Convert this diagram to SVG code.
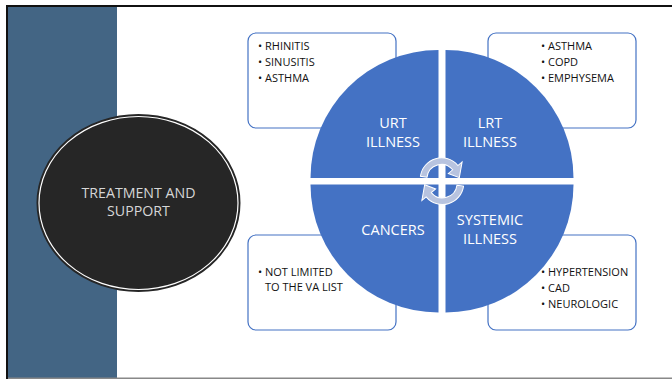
<svg xmlns="http://www.w3.org/2000/svg" width="672" height="379" viewBox="0 0 672 379">
<style>
.box{fill:#fff;stroke:#4472C4;stroke-width:1.2}
.quad{fill:#4472C4}
.lbl{font-family:"Open Sans","Noto Sans",sans-serif;font-size:14.5px;fill:#fff;text-anchor:middle}
.item{font-family:"Open Sans","Noto Sans",sans-serif;font-size:11px;fill:#111}
.arr{fill:#b7c3df;stroke:#fff;stroke-width:0.9}
</style>
<defs>
<path id="cyc" d="M428.1,178.2 L422.2,177.4 A19,19 0 0 1 455.6,167.8 L459.4,164.6 L456.9,178.6 L447.1,174.9 L451,171.6 A13,13 0 0 0 428.1,178.2 Z"/>
</defs>
<rect x="0" y="0" width="672" height="379" fill="#fff"/>
<rect x="8" y="7" width="109" height="371" fill="#436584"/>
<line x1="6" y1="6" x2="672" y2="6" stroke="#111" stroke-width="2"/>
<line x1="7" y1="5" x2="7" y2="379" stroke="#111" stroke-width="2"/>
<line x1="8" y1="378.3" x2="672" y2="378.3" stroke="#888" stroke-width="1.4"/>
<g id="treatment">
<ellipse cx="138.5" cy="203" rx="101" ry="88" fill="#262626" stroke="#262626" stroke-width="2"/>
<ellipse cx="138.5" cy="203" rx="99.5" ry="86.5" fill="none" stroke="#fff" stroke-width="1.2"/>
<text x="138.5" y="197.5" font-family="'Open Sans','Noto Sans',sans-serif" font-size="14.2" fill="#d6d6d6" text-anchor="middle">TREATMENT AND</text>
<text x="138.5" y="215.5" font-family="'Open Sans','Noto Sans',sans-serif" font-size="14.2" fill="#d6d6d6" text-anchor="middle">SUPPORT</text>
</g>
<g id="box-urt">
<rect class="box" x="248" y="33" width="148" height="95" rx="8"/>
<text class="item" x="258" y="50">•</text><text class="item" x="265" y="50">RHINITIS</text>
<text class="item" x="258" y="66">•</text><text class="item" x="265" y="66">SINUSITIS</text>
<text class="item" x="258" y="82">•</text><text class="item" x="265" y="82">ASTHMA</text>
</g>
<g id="box-lrt">
<rect class="box" x="488" y="33" width="148" height="95" rx="8"/>
<text class="item" x="541" y="50">•</text><text class="item" x="548" y="50">ASTHMA</text>
<text class="item" x="541" y="66">•</text><text class="item" x="548" y="66">COPD</text>
<text class="item" x="541" y="82">•</text><text class="item" x="548" y="82">EMPHYSEMA</text>
</g>
<g id="box-cancers">
<rect class="box" x="248" y="235" width="148" height="95" rx="8"/>
<text class="item" x="258" y="276">•</text><text class="item" x="265" y="276">NOT LIMITED</text>
<text class="item" x="265" y="291">TO THE VA LIST</text>
</g>
<g id="box-systemic">
<rect class="box" x="488" y="235" width="148" height="95" rx="8"/>
<text class="item" x="541" y="276">•</text><text class="item" x="548" y="276">HYPERTENSION</text>
<text class="item" x="541" y="292">•</text><text class="item" x="548" y="292">CAD</text>
<text class="item" x="541" y="308">•</text><text class="item" x="548" y="308">NEUROLOGIC</text>
</g>
<g id="q-urt">
<path class="quad" d="M438.5,178 L310.5,178 A128,128 0 0 1 438.5,50 Z"/>
<text class="lbl" x="393" y="128">URT</text>
<text class="lbl" x="393" y="147">ILLNESS</text>
</g>
<g id="q-lrt">
<path class="quad" d="M445.5,178 L445.5,50 A128,128 0 0 1 573.5,178 Z"/>
<text class="lbl" x="490" y="128">LRT</text>
<text class="lbl" x="490" y="147">ILLNESS</text>
</g>
<g id="q-cancers">
<path class="quad" d="M438.5,184.5 L438.5,312.5 A128,128 0 0 1 310.5,184.5 Z"/>
<text class="lbl" x="393" y="235">CANCERS</text>
</g>
<g id="q-systemic">
<path class="quad" d="M445.5,184.5 L573.5,184.5 A128,128 0 0 1 445.5,312.5 Z"/>
<text class="lbl" x="490" y="225">SYSTEMIC</text>
<text class="lbl" x="490" y="244">ILLNESS</text>
</g>
<g id="connectors">
<g transform="translate(441.5 177.5) scale(1.12) translate(-441 -178.5)"><use href="#cyc" class="arr"/></g>
<g transform="translate(442.5 185) scale(1.12) translate(-443 -184)"><use href="#cyc" class="arr" transform="rotate(180 442 181.2)"/></g>
</g>
</svg>
